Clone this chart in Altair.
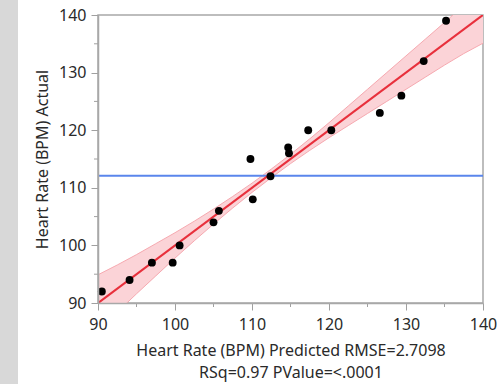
import altair as alt
import pandas as pd
import numpy as np

# data
predicted = [90.5, 94.1, 97.0, 99.7, 100.6, 105.0, 105.7, 109.8, 110.1, 112.4,
             114.7, 114.8, 117.3, 120.3, 126.6, 129.4, 132.3, 135.2]
actual = [92, 94, 97, 97, 100, 104, 106, 115, 108, 112,
          117, 116, 120, 120, 123, 126, 132, 139]

band_x = [90, 92.5, 95, 97.5, 100, 102.5, 105, 107.5, 110, 112.5, 115,
          117.5, 120, 122.5, 125, 127.5, 130, 132.5, 135, 137.5, 140]
band_half = [4.9, 4.1, 3.4, 2.8, 2.2, 1.7, 1.3, 1.0, 0.8, 0.75, 0.8,
             1.0, 1.3, 1.7, 2.1, 2.5, 2.9, 3.3, 3.7, 4.2, 4.9]

fit_x = [85, 145]
major_ticks = [90, 100, 110, 120, 130, 140]
minor_ticks = [95, 105, 115, 125, 135]

pts = pd.DataFrame({"pred": predicted, "act": actual})
band = pd.DataFrame({"x": band_x,
                     "lo": [x - h for x, h in zip(band_x, band_half)],
                     "hi": [x + h for x, h in zip(band_x, band_half)]})
fit = pd.DataFrame({"x": fit_x, "y": fit_x})
mean_df = pd.DataFrame({"y": [float(np.mean(actual))]})
minor_df = pd.DataFrame({"t": minor_ticks})

W, H = 385, 288
FONT = "Noto Sans"

xs = alt.Scale(domain=[90, 140], nice=False, zero=False)
ys = alt.Scale(domain=[90, 140], nice=False, zero=False)

x_axis = alt.Axis(values=major_ticks, grid=False, tickSize=7, labelPadding=6,
                  labelFlush=False,
                  title=["Heart Rate (BPM) Predicted RMSE=2.7098",
                         "RSq=0.97 PValue=<.0001"],
                  titlePadding=10, titleLineHeight=22, zindex=1)
y_axis = alt.Axis(values=major_ticks, grid=False, tickSize=7, labelPadding=5,
                  labelFlush=False,
                  title="Heart Rate (BPM) Actual", titlePadding=8, zindex=1)

strip = alt.Chart(pd.DataFrame({"a": [0]})).mark_rect(
    color="#d8d8d8"
).encode(x=alt.value(-99), x2=alt.value(-80), y=alt.value(-20), y2=alt.value(370))

band_area = alt.Chart(band).mark_area(
    color="#fbd3d7", opacity=1, clip=True
).encode(
    x=alt.X("x:Q", scale=xs, axis=x_axis),
    y=alt.Y("lo:Q", scale=ys, axis=y_axis),
    y2="hi:Q",
)
band_lo = alt.Chart(band).mark_line(color="#f6a9b0", strokeWidth=1, clip=True).encode(
    x=alt.X("x:Q", scale=xs, axis=x_axis), y=alt.Y("lo:Q", scale=ys, axis=y_axis))
band_hi = alt.Chart(band).mark_line(color="#f6a9b0", strokeWidth=1, clip=True).encode(
    x=alt.X("x:Q", scale=xs, axis=x_axis), y=alt.Y("hi:Q", scale=ys, axis=y_axis))

fit_line = alt.Chart(fit).mark_line(color="#e8303c", strokeWidth=2.2, clip=True).encode(
    x=alt.X("x:Q", scale=xs, axis=x_axis), y=alt.Y("y:Q", scale=ys, axis=y_axis))

mean_line = alt.Chart(mean_df).mark_rule(color="#5a86ec", strokeWidth=2).encode(
    y=alt.Y("y:Q", scale=ys, axis=y_axis), x=alt.value(0), x2=alt.value(W))

points = alt.Chart(pts).mark_circle(color="black", opacity=1, size=62).encode(
    x=alt.X("pred:Q", scale=xs, axis=x_axis), y=alt.Y("act:Q", scale=ys, axis=y_axis))

minor_x = alt.Chart(minor_df).mark_rule(color="#a0a0a0", strokeWidth=1).encode(
    x=alt.X("t:Q", scale=xs, axis=x_axis), y=alt.value(H), y2=alt.value(H + 4))
minor_y = alt.Chart(minor_df).mark_rule(color="#a0a0a0", strokeWidth=1).encode(
    y=alt.Y("t:Q", scale=ys, axis=y_axis), x=alt.value(-4), x2=alt.value(0))

chart = alt.layer(strip, band_area, band_lo, band_hi, mean_line, fit_line, points,
                  minor_x, minor_y).properties(
    width=W, height=H,
    autosize=alt.AutoSizeParams(type="none"),
    padding={"left": 98, "top": 15, "right": 20, "bottom": 81},
    background="white",
).configure_view(
    stroke="#a8a8a8", strokeWidth=1.5
).configure_axis(
    domainColor="#a8a8a8", domainWidth=1.5, tickColor="#a0a0a0", tickWidth=1,
    labelFont=FONT, labelFontSize=16, labelColor="#2a2a2a",
    titleFont=FONT, titleFontSize=16, titleColor="#2a2a2a", titleFontWeight="normal",
)

chart.save("out.html", embed_options={"renderer": "svg", "actions": False})
